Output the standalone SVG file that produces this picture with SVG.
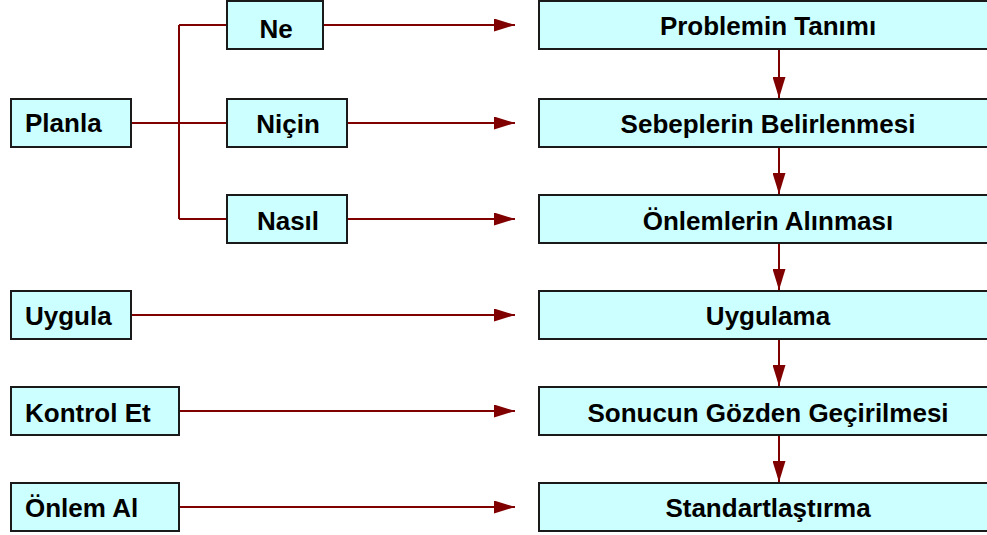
<svg xmlns="http://www.w3.org/2000/svg" width="987" height="535" viewBox="0 0 987 535">
<style>
.box{fill:#ccffff;stroke:#1a1a1a;stroke-width:2}
.t{font-family:"Liberation Sans",Arial,sans-serif;font-weight:bold;font-size:26px;fill:#000}
.c{text-anchor:middle}
.ln{fill:none;stroke:#800000;stroke-width:2}
.ar{marker-end:url(#ah)}
</style>
<defs>
<marker id="ah" viewBox="0 0 21 13" refX="21" refY="6.5" markerWidth="21" markerHeight="13" markerUnits="userSpaceOnUse" orient="auto">
<path d="M0,0 L21,6.5 L0,13 z" fill="#800000"/>
</marker>
</defs>
<g id="connectors">
<path class="ln" d="M131,123 H227 M179,25 V219 M179,25 H227 M179,219 H227"/>
<line class="ln ar" x1="323" y1="25" x2="515" y2="25"/>
<line class="ln ar" x1="347" y1="123" x2="515" y2="123"/>
<line class="ln ar" x1="347" y1="219" x2="515" y2="219"/>
<line class="ln ar" x1="131" y1="315" x2="515" y2="315"/>
<line class="ln ar" x1="179" y1="411" x2="515" y2="411"/>
<line class="ln ar" x1="179" y1="507" x2="515" y2="507"/>
<line class="ln ar" x1="779" y1="49" x2="779" y2="98"/>
<line class="ln ar" x1="779" y1="147" x2="779" y2="194"/>
<line class="ln ar" x1="779" y1="243" x2="779" y2="290"/>
<line class="ln ar" x1="779" y1="339" x2="779" y2="386"/>
<line class="ln ar" x1="779" y1="435" x2="779" y2="482"/>
</g>
<g id="planla"><rect class="box" x="11" y="99" width="120" height="48"/><text class="t" x="25" y="132">Planla</text></g>
<g id="ne"><rect class="box" x="227" y="1" width="96" height="48"/><text class="t c" x="276" y="37.5">Ne</text></g>
<g id="nicin"><rect class="box" x="227" y="99" width="120" height="48"/><text class="t c" x="288" y="133">Niçin</text></g>
<g id="nasil"><rect class="box" x="227" y="195" width="120" height="48"/><text class="t c" x="288" y="229.5">Nasıl</text></g>
<g id="uygula"><rect class="box" x="11" y="291" width="120" height="48"/><text class="t" x="25" y="325">Uygula</text></g>
<g id="kontrol"><rect class="box" x="11" y="387" width="168" height="48"/><text class="t" x="25" y="421.5">Kontrol Et</text></g>
<g id="onlem"><rect class="box" x="11" y="483" width="168" height="48"/><text class="t" x="25" y="517">Önlem Al</text></g>
<g id="problem"><rect class="box" x="539" y="1" width="460" height="48"/><text class="t c" x="768" y="35">Problemin Tanımı</text></g>
<g id="sebep"><rect class="box" x="539" y="99" width="460" height="48"/><text class="t c" x="768" y="133">Sebeplerin Belirlenmesi</text></g>
<g id="onlemler"><rect class="box" x="539" y="195" width="460" height="48"/><text class="t c" x="768" y="229.5">Önlemlerin Alınması</text></g>
<g id="uygulama"><rect class="box" x="539" y="291" width="460" height="48"/><text class="t c" x="768" y="325">Uygulama</text></g>
<g id="sonuc"><rect class="box" x="539" y="387" width="460" height="48"/><text class="t c" x="768" y="421.5">Sonucun Gözden Geçirilmesi</text></g>
<g id="standart"><rect class="box" x="539" y="483" width="460" height="48"/><text class="t c" x="768" y="517">Standartlaştırma</text></g>
</svg>
